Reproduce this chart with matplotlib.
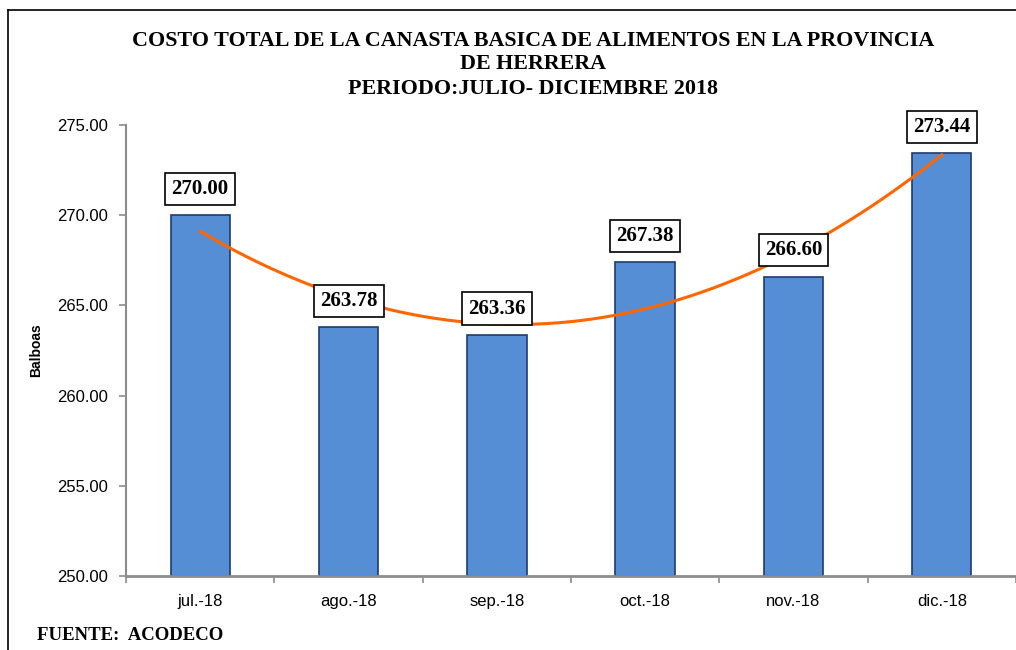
import matplotlib
matplotlib.use("Agg")
import matplotlib.pyplot as plt
import numpy as np
from matplotlib.lines import Line2D

MONTHS = ["jul.-18", "ago.-18", "sep.-18", "oct.-18", "nov.-18", "dic.-18"]
COSTS = [270.00, 263.78, 263.36, 267.38, 266.60, 273.44]

BAR_FILL = "#558ED5"
BAR_EDGE = "#1F3A70"
TREND = "#FF6600"
AXIS_GREY = "#8C8C8C"

figure = plt.figure(figsize=(10.16, 6.5), dpi=100, facecolor="white")
axis = figure.add_axes([126 / 1016, 1 - 576 / 650, 890 / 1016, 451 / 650])

positions = np.arange(len(COSTS))
axis.bar(positions, np.array(COSTS) - 250, bottom=250, width=0.4,
         color=BAR_FILL, edgecolor=BAR_EDGE, linewidth=1.2, zorder=2)

# second-order polynomial trendline, as in the original spreadsheet
coeffs = np.polyfit(positions, COSTS, 2)
smooth_x = np.linspace(positions[0], positions[-1], 200)
axis.plot(smooth_x, np.polyval(coeffs, smooth_x), color=TREND, linewidth=2.2, zorder=3)

for x, value in zip(positions, COSTS):
    axis.annotate(f"{value:.2f}", (x, value), xytext=(0, 19), textcoords="offset points",
                  ha="center", va="center", fontsize=15, fontweight="bold",
                  family="Liberation Serif", zorder=4,
                  bbox=dict(boxstyle="square,pad=0.3", facecolor="white",
                            edgecolor="black", linewidth=1.2))

axis.set_xlim(-0.5, len(COSTS) - 0.5)
axis.set_ylim(250, 275)
axis.set_yticks(np.arange(250, 276, 5))
axis.set_yticklabels([f"{v:.2f}" for v in np.arange(250, 276, 5)],
                     family="Liberation Sans", fontsize=12)
axis.set_xticks(positions)
axis.set_xticklabels(MONTHS, family="Liberation Sans", fontsize=12)
axis.set_xticks(np.arange(-0.5, len(COSTS)), minor=True)
axis.tick_params(axis="x", which="major", length=0, pad=13)
axis.tick_params(axis="x", which="minor", length=5, color=AXIS_GREY, width=1.2)
axis.tick_params(axis="y", length=5, color=AXIS_GREY, width=1.2, pad=8)
axis.spines[["top", "right"]].set_visible(False)
axis.spines["left"].set_color(AXIS_GREY)
axis.spines["bottom"].set_color(AXIS_GREY)
axis.spines["left"].set_linewidth(1.5)
axis.spines["bottom"].set_linewidth(2)
axis.set_ylabel("Balboas", family="Liberation Sans", fontsize=10, fontweight="bold", labelpad=10)

title_lines = [
    "COSTO TOTAL DE LA CANASTA BASICA DE ALIMENTOS EN LA PROVINCIA",
    "DE HERRERA",
    "PERIODO:JULIO- DICIEMBRE 2018",
]
for text, y in zip(title_lines, [41, 64, 89]):
    figure.text(533 / 1016, 1 - y / 650, text, ha="center", va="center",
                family="Liberation Serif", fontsize=15.8, fontweight="bold")

figure.text(37 / 1016, 1 - 636 / 650, "FUENTE:  ACODECO", ha="left", va="center",
            family="Liberation Serif", fontsize=13.5, fontweight="bold")

# outer frame (only top and left edges fall inside the picture)
figure.add_artist(Line2D([8 / 1016, 1], [1 - 10 / 650, 1 - 10 / 650], color="black",
                         linewidth=1.2, transform=figure.transFigure))
figure.add_artist(Line2D([8 / 1016, 8 / 1016], [0, 1 - 10 / 650], color="black",
                         linewidth=1.2, transform=figure.transFigure))

figure.savefig("out.png", dpi=100, facecolor="white")
